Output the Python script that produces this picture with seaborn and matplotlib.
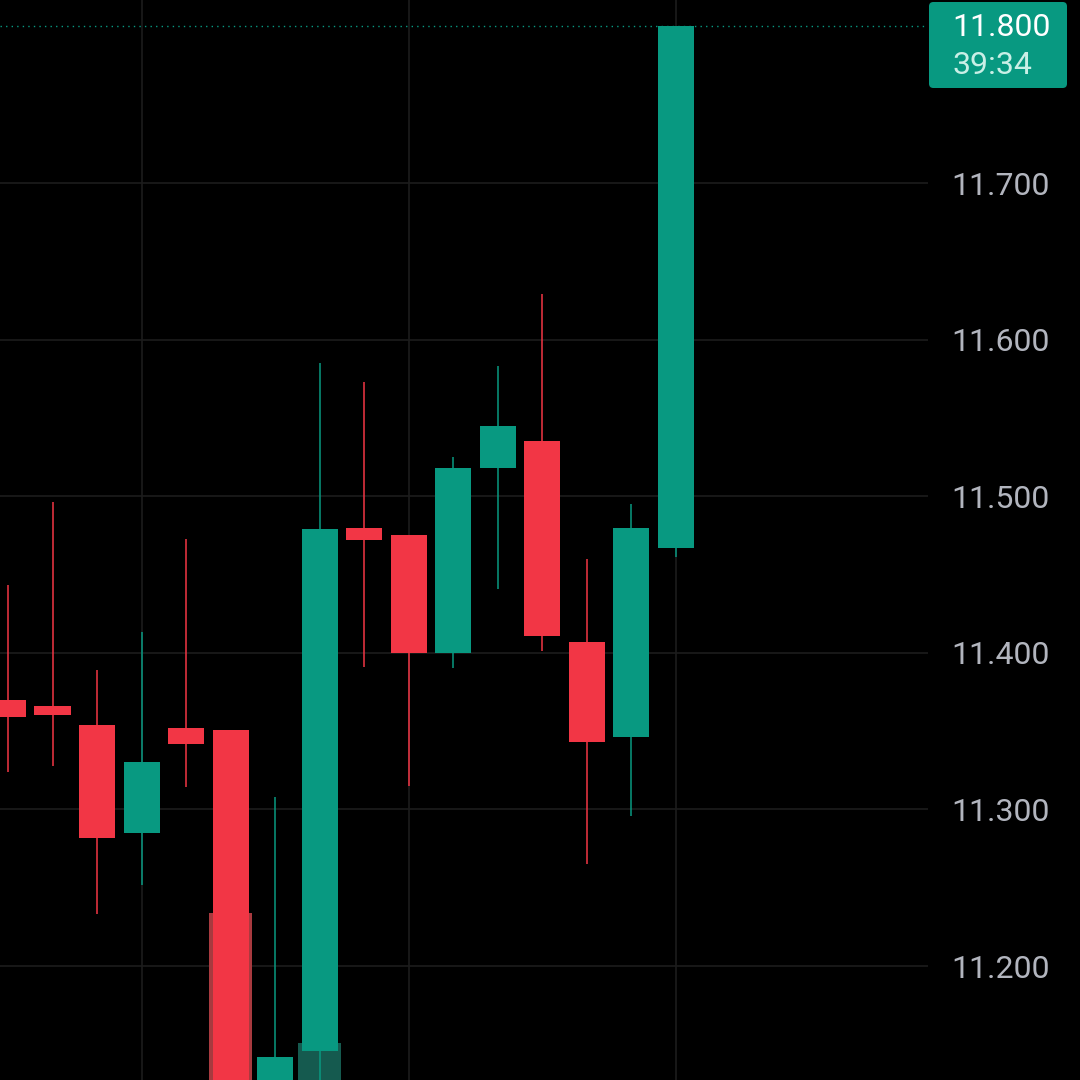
import matplotlib
matplotlib.use("Agg")
import matplotlib.pyplot as plt
from matplotlib.patches import FancyBboxPatch
import seaborn as sns
import numpy as np

# ---- data ----
opens  = [11.370, 11.366, 11.354, 11.285, 11.352, 11.351, 11.090, 11.146,
          11.480, 11.475, 11.400, 11.518, 11.535, 11.407, 11.346, 11.467]
highs  = [11.443, 11.496, 11.389, 11.413, 11.473, 11.351, 11.308, 11.585,
          11.573, 11.475, 11.525, 11.583, 11.629, 11.460, 11.495, 11.800]
lows   = [11.324, 11.328, 11.233, 11.252, 11.314, 11.060, 11.060, 11.100,
          11.391, 11.315, 11.390, 11.441, 11.401, 11.265, 11.296, 11.461]
closes = [11.359, 11.360, 11.282, 11.330, 11.342, 11.090, 11.142, 11.479,
          11.472, 11.400, 11.518, 11.545, 11.411, 11.343, 11.480, 11.800]
volumes = [20, 25, 30, 22, 18, 110, 40, 60, 15, 20, 18, 14, 22, 20, 26, 30]
yticks = [11.2, 11.3, 11.4, 11.5, 11.6, 11.7]
last_price_label = "11.800"
countdown_label = "39:34"

UP = "#089981"
DOWN = "#F23645"
VOL_UP = "#155a4f"
VOL_DOWN = "#a83a3f"
GRID = "#1c1c1c"

sns.set_theme(style="dark")
plt.rcParams['font.family'] = ['Roboto', 'DejaVu Sans']

fig = plt.figure(figsize=(10.8, 10.8), dpi=100, facecolor="black")
axw = 928 / 1080
rect = [0, 0, axw, 1]

# grid axis (bottom layer)
gax = fig.add_axes(rect, zorder=0)
gax.set_facecolor("black")
# volume axis (middle layer)
vax = fig.add_axes(rect, zorder=1)
vax.patch.set_visible(False)
# price axis (top layer)
ax = fig.add_axes(rect, zorder=2, sharex=gax, sharey=gax)
ax.patch.set_visible(False)

x = np.arange(len(opens))
o = np.array(opens); c = np.array(closes)
h = np.array(highs); l = np.array(lows)
up = c >= o
colors = np.where(up, UP, DOWN)

# volume (behind; its base lies below the visible area)
vcolors = np.where(up, VOL_UP, VOL_DOWN)
vax.bar(x, volumes, width=0.97, color=vcolors, linewidth=0)
vax.set_xlim(-0.18, 20.67)
vax.set_ylim(45.7, 461.3)
vax.set_xticks([]); vax.set_yticks([])
for s in vax.spines.values():
    s.set_visible(False)

# wicks and bodies
ax.vlines(x, l, h, colors=colors, linewidth=1.1, zorder=3)
ax.bar(x, np.abs(c - o), bottom=np.minimum(o, c), width=0.81, color=colors,
       linewidth=0, zorder=4)

ax.set_xlim(-0.18, 20.67)
ax.set_ylim(11.1272, 11.8169)

# grid on the bottom axis
gax.set_xticks([3, 9, 15])
gax.set_yticks(yticks)
gax.grid(True, color=GRID, linewidth=1.2)
gax.tick_params(axis='both', length=0, labelleft=False, labelbottom=False)
for s in gax.spines.values():
    s.set_visible(False)

ax.grid(False)
ax.tick_params(axis='x', length=0, labelbottom=False)
ax.yaxis.tick_right()
ax.set_yticks(yticks)
ax.set_yticklabels([f"{t:.3f}" for t in yticks])
ax.tick_params(axis='y', length=0, pad=17, labelsize=23, labelcolor="#b2b5be",
               labelleft=False, labelright=True)
for s in ax.spines.values():
    s.set_visible(False)

# last price dotted line
ax.axhline(closes[-1], color=UP, linestyle=(0, (1, 3)), linewidth=1.0, zorder=1)

# last price label box
bx0, by0, bw, bh = 929 / 1080, 1 - 88 / 1080, 138 / 1080, 86 / 1080
box = FancyBboxPatch((bx0, by0), bw, bh, boxstyle="round,pad=0,rounding_size=0.004",
                     transform=fig.transFigure, facecolor=UP, edgecolor="none",
                     zorder=10)
fig.patches.append(box)
fig.text(952 / 1080, 1 - 27 / 1080, last_price_label, color="white", fontsize=23,
         ha="left", va="center", zorder=11)
fig.text(952 / 1080, 1 - 66 / 1080, countdown_label, color="#c9efe6", fontsize=23,
         ha="left", va="center", zorder=11)

fig.savefig("out.png", dpi=100, facecolor="black")
